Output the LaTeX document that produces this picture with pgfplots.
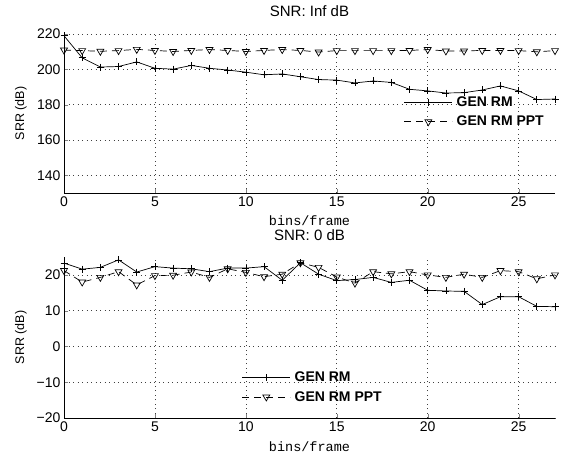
\documentclass[border=0pt]{standalone}
\usepackage{fontspec}
\setmainfont{Liberation Sans}
\setmonofont{Liberation Mono}
\usepackage{pgfplots}
\pgfplotsset{compat=1.18}

\pgfplotsset{
  mat/.style={
    scale only axis, width=491pt,
    xmin=0, xmax=27,
    xtick={0,5,...,25},
    axis x line*=bottom, axis y line*=left,
    axis line style={-, line width=0.8pt},
    tick align=inside, major tick length=4pt,
    grid=major,
    major grid style={dash pattern=on 0.9pt off 3.6pt, black!75, line width=0.7pt},
    /pgf/number format/assume math mode=true,
    tick label style={font=\fontsize{14}{16}\selectfont},
    title style={font=\fontsize{15}{17}\selectfont, at={(0.5,1)}, anchor=base, yshift=11pt},
    xlabel style={font=\ttfamily\fontsize{13.5}{15}\selectfont, at={(0.5,0)}, anchor=base, yshift=-33pt},
    ylabel style={font=\fontsize{12.5}{14}\selectfont, at={(-0.088,0.5)}, anchor=center},
    xlabel={bins/frame}, ylabel={SRR (dB)},
    legend cell align=left,
    legend style={draw=none, fill=none, font=\bfseries\fontsize{14}{16}\selectfont,
      row sep=4pt, inner sep=1pt,
      /tikz/every odd column/.append style={column sep=2pt}},
    legend image code/.code={
      \draw[mark repeat=2, mark phase=2, #1] plot coordinates {(0pt,0pt) (24pt,0pt) (48pt,0pt)};},
  },
  rm/.style={black, line width=0.7pt, mark=+, mark size=3.5pt, mark options={solid}},
  ppt/.style={black, line width=0.7pt, dash pattern=on 7pt off 5pt, mark=triangle,
    mark size=4pt, mark options={solid, rotate=180}},
}

\begin{document}
\begin{tikzpicture}
\useasboundingbox (0,0) rectangle (567pt,455pt);

\begin{axis}[mat, at={(64pt,262pt)}, height=159pt,
  ymin=130, ymax=220, ytick={140,160,...,220},
  title={SNR: Inf dB},
  legend style={at={(0.69,0.625)}, anchor=north west}]
\addplot[rm] coordinates {
 (0,219) (1,206.5) (2,201.3) (3,201.6) (4,204.2) (5,200.6) (6,200.1) (7,202.2)
 (8,200.6) (9,199.6) (10,198.4) (11,196.9) (12,197.4) (13,195.8) (14,194.2)
 (15,193.9) (16,192.3) (17,193.4) (18,192.6) (19,188.7) (20,187.8) (21,186.6)
 (22,186.8) (23,188.3) (24,190.6) (25,187.8) (26,182.9) (27,183.2)};
\addlegendentry{GEN RM}
\addplot[ppt] coordinates {
 (0,210.9) (1,210.6) (2,210.2) (3,210.6) (4,211.3) (5,210.7) (6,210.1) (7,210.7)
 (8,211.2) (9,210.7) (10,210.1) (11,210.7) (12,211.2) (13,210.7) (14,209.8)
 (15,210.6) (16,210.6) (17,210.6) (18,210.6) (19,210.7) (20,211.2) (21,210.4)
 (22,210.4) (23,210.7) (24,210.7) (25,210.6) (26,209.9) (27,210.6)};
\addlegendentry{GEN RM PPT}
\end{axis}

\begin{axis}[mat, at={(64pt,37pt)}, height=161pt,
  ymin=-20, ymax=25, ytick={-20,-10,...,20},
  yticklabels={−20,−10,0,10,20},
  title={SNR: 0 dB},
  legend style={at={(0.36,0.305)}, anchor=north west}]
\addplot[rm] coordinates {
 (0,23.3) (1,21.6) (2,22.1) (3,24.2) (4,20.8) (5,22.3) (6,21.9) (7,21.7)
 (8,20.9) (9,21.9) (10,21.9) (11,22.3) (12,18.5) (13,23.4) (14,20.2)
 (15,18.4) (16,18.7) (17,19.3) (18,17.9) (19,18.5) (20,15.7) (21,15.5)
 (22,15.4) (23,11.7) (24,13.9) (25,13.9) (26,11.2) (27,11.1)};
\addlegendentry{GEN RM}
\addplot[ppt] coordinates {
 (0,21.2) (1,18.0) (2,19.3) (3,20.9) (4,17.2) (5,19.8) (6,19.9) (7,20.8)
 (8,19.3) (9,21.7) (10,20.7) (11,19.5) (12,20.2) (13,23.4) (14,22.1)
 (15,19.4) (16,17.7) (17,20.9) (18,20.3) (19,20.9) (20,20.0) (21,19.3)
 (22,20.2) (23,19.3) (24,21.2) (25,20.9) (26,18.9) (27,20.0)};
\addlegendentry{GEN RM PPT}
\end{axis}
\end{tikzpicture}
\end{document}
